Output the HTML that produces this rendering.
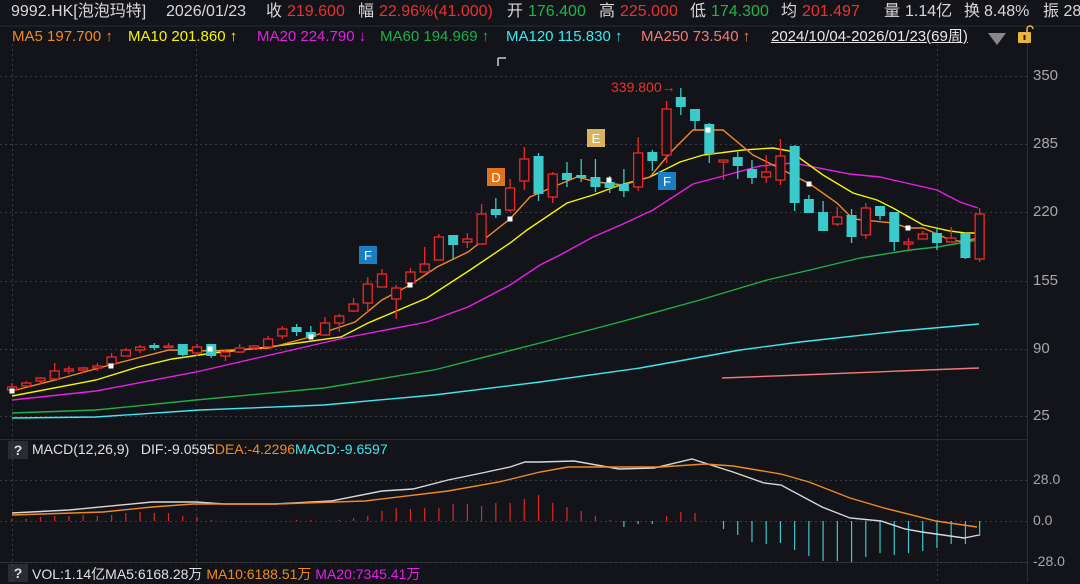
<!DOCTYPE html>
<html><head><meta charset="utf-8">
<style>
html,body{margin:0;padding:0;background:#131419;}
body{width:1080px;height:582px;overflow:hidden;position:relative;font-family:"Liberation Sans","Noto Sans CJK SC",sans-serif;}
.t{position:absolute;white-space:nowrap;}
.a{position:absolute;top:2px;font-size:16px;line-height:20px;color:#d8d8d8;white-space:nowrap;}
.b{position:absolute;top:28px;font-size:15px;line-height:18px;white-space:nowrap;}
.R{color:#ec3030}.G{color:#1cb54c}
.ax{position:absolute;left:1033px;font-size:15px;color:#a8a8a8;}
.q{position:absolute;width:20px;height:18px;background:#2a2c31;color:#e0e0e0;font-size:14px;text-align:center;line-height:18px;font-weight:bold;}
</style></head><body>
<div class="a" style="left:11px">9992.HK[泡泡玛特]</div>
<div class="a" style="left:166px">2026/01/23</div>
<div class="a" style="left:266px">收</div><div class="a R" style="left:287px">219.600</div>
<div class="a" style="left:358px">幅</div><div class="a R" style="left:379px">22.96%(41.000)</div>
<div class="a" style="left:507px">开</div><div class="a G" style="left:528px">176.400</div>
<div class="a" style="left:599px">高</div><div class="a R" style="left:620px">225.000</div>
<div class="a" style="left:690px">低</div><div class="a G" style="left:711px">174.300</div>
<div class="a" style="left:781px">均</div><div class="a R" style="left:802px">201.497</div>
<div class="a" style="left:884px">量</div><div class="a" style="left:905px">1.14亿</div>
<div class="a" style="left:964px">换</div><div class="a" style="left:984px">8.48%</div>
<div class="a" style="left:1043px">振 28</div>
<div class="b" style="left:12px;color:#f08a24">MA5 197.700 ↑</div>
<div class="b" style="left:128px;color:#f5f500">MA10 201.860 ↑</div>
<div class="b" style="left:257px;color:#e91ee9">MA20 224.790 ↓</div>
<div class="b" style="left:380px;color:#1fae4a">MA60 194.969 ↑</div>
<div class="b" style="left:506px;color:#3ee8f0">MA120 115.830 ↑</div>
<div class="b" style="left:641px;color:#f07a7a">MA250 73.540 ↑</div>
<div class="b" style="left:771px;color:#e8e8e8;text-decoration:underline">2024/10/04-2026/01/23(69周)</div>
<div class="ax" style="top:67px">350</div>
<div class="ax" style="top:135px">285</div>
<div class="ax" style="top:203px">220</div>
<div class="ax" style="top:272px">155</div>
<div class="ax" style="top:340px">90</div>
<div class="ax" style="top:407px">25</div>
<div class="ax" style="top:471px;font-size:14px">28.0</div>
<div class="ax" style="top:512px;font-size:14px">0.0</div>
<div class="ax" style="top:553px;font-size:14px">-28.0</div>
<div class="q" style="left:8px;top:441px">?</div>
<div class="t" style="left:32px;top:441px;font-size:14px;color:#e0e0e0">MACD(12,26,9)&nbsp;&nbsp; DIF:-9.0595<span style="color:#f08a24">DEA:-4.2296</span><span style="color:#3ee8f0">MACD:-9.6597</span></div>
<div class="q" style="left:8px;top:564px">?</div>
<div class="t" style="left:32px;top:564px;font-size:14px;color:#e0e0e0">VOL:1.14亿MA5:6168.28万 <span style="color:#f08a24">MA10:6188.51万</span> <span style="color:#e91ee9">MA20:7345.41万</span></div>
<div class="t" style="left:611px;top:79px;font-size:14px;color:#ec3030">339.800→</div>
<svg id="s" width="1080" height="582" style="position:absolute;left:0;top:0;pointer-events:none"></svg>
<script>
var s=document.getElementById('s'),h='';
function L(x1,y1,x2,y2,c,w,d){h+='<line x1="'+x1+'" y1="'+y1+'" x2="'+x2+'" y2="'+y2+'" stroke="'+c+'" stroke-width="'+(w||1)+'"'+(d?' stroke-dasharray="'+d+'"':'')+'/>';}
function P(pts,c,w){h+='<polyline fill="none" stroke="'+c+'" stroke-width="'+(w||1.4)+'" points="'+pts+'"/>';}
L(0,26,1080,26,'#2a2c31',1);L(1027.5,26,1027.5,582,'#2a2c31',1.2);L(0,439.5,1028,439.5,'#2a2c31',1);L(0,562.5,1028,562.5,'#2a2c31',1);
[76,144,212,281,349,416,480,521,562].forEach(function(y){L(0,y+.5,1027,y+.5,'#3a3c42',1,'2,3');});
[12,196,937].forEach(function(x){L(x+.5,44,x+.5,582,'#3a3c42',1,'2,3');});
h+='<path d="M498 58 h8 M498 58 v8" stroke="#ccc" stroke-width="1.5" fill="none"/>';
h+='<polygon points="988,33 1006,33 997,45" fill="#888"/>';
h+='<rect x="1018" y="32" width="13" height="11" rx="1" fill="#e6b73c"/><path d="M1027 32 v-3 a3 3 0 0 1 6 0" stroke="#e6b73c" stroke-width="1.5" fill="none"/><rect x="1023.5" y="35" width="2" height="5" fill="#222"/>';
P('12,418 96,417 200,410 324,405 434,395 540,382 640,368 740,350 800,342 900,331 979,324','#3ee8f0');
P('722,378 800,375 900,371 979,368','#f07a7a');
P('12,413 96,410 196,400 324,388 434,370 540,343 620,322 700,300 767,280 810,270 860,258 910,250 937,247 978,240','#1fae4a');
P('12,400 96,391 196,372 344,338 427,322 468,307 510,285 540,265 560,255 593,237 623,224 653,210 693,184 727,175 760,166 793,163 850,174 880,177 937,190 960,202 978,208','#e91ee9');
P('12,396 96,380 138,367 172,359 213,353 269,347 341,337 368,323 427,298 470,270 510,243 527,230 567,203 593,195 620,185 650,177 680,162 703,155 743,150 773,148 790,151 823,175 853,193 877,200 893,208 923,225 950,231 965,233 979,233','#f5f500');
P('12,391 55,380 110,365 169,350 213,351 269,348 310,337 355,322 382,300 410,285 437,267 468,252 510,219 530,197 553,187 577,177 597,182 623,185 650,177 670,153 693,130 723,130 753,155 777,167 810,184 837,203 853,219 893,223 908,228 923,228 937,234 950,240 965,242 979,237','#f08a24');
var C=[['r',387,390,383,392],['r',383,386,381,387],['r',378,381,377,384],['r',371,379,363,380],['r',369,371,366,374],['r',368,370,367,373],['r',366,368,363,371],['r',357,364,353,367],['r',350,356,348,356],['r',347,350,345,353],['c',345,348,343,350],['r',346,347.5,343,348],['c',344,355,344,356],['r',347,353,344,356],['c',344,356,344,358],['r',352,356,350,361],['r',348,352,344,353],['r',346,348,345,349],['r',339,347,336,347],['r',329,336,326,339],['c',327,332,324,336],['c',332,337,326,339],['r',323,335,317,336],['r',316,323,314,332],['r',304,311,298,312],['r',284,303,277,312],['r',274,287,269,287],['r',288,299,285,319],['r',272,283,268,284],['r',264,272,247,272],['r',237,260,234,260],['c',235,245,235,259],['r',239,242,233,248],['r',214,244,204,245],['c',209,215,198,218],['r',188,210,179,212],['r',159,181,147,190],['c',156,194,153,201],['r',174,197,172,203],['c',173,180,162,187],['c',175,178,159,182],['c',177,187,159,192],['c',182,188,176,193],['c',184,191,169,197],['r',153,187,137,191],['c',152,161,150,171],['r',109,155,101,163],['c',97,107,88,115],['c',109,121,109,130],['c',124,154,123,163],['r',160,162,160,180],['c',157,166,152,179],['c',169,178,160,184],['r',172,177,155,183],['r',156,180,139,185],['c',146,203,145,211],['c',199,213,195,213],['c',212,231,201,231],['r',217,224,207,226],['c',215,237,209,243],['r',208,235,203,239],['c',206,216,206,220],['c',212,242,212,251],['r',242,244,238,250],['r',234,239,231,239],['c',233,243,227,250],['r',238,242,227,242],['c',233,258,232,259],['r',214,259,208,262]];
function X(i){return 12+i*14.23;}
C.forEach(function(d,i){var x=X(i),red=d[0]=='r',col=red?'#f02828':'#3cc9c9';
L(x,d[3],x,d[4],col,1.3);
if(red){h+='<rect x="'+(x-4.5)+'" y="'+d[1]+'" width="9" height="'+Math.max(d[2]-d[1],1.5)+'" fill="#131419" stroke="'+col+'" stroke-width="1.3"/>';}
else{h+='<rect x="'+(x-5)+'" y="'+d[1]+'" width="10" height="'+Math.max(d[2]-d[1],2)+'" fill="'+col+'"/>';}
});
[[12,391],[111,366],[210,349],[311,337],[410,285],[510,219],[609,180],[708,130],[809,184],[908,228]].forEach(function(p){h+='<rect x="'+(p[0]-2.5)+'" y="'+(p[1]-2.5)+'" width="5" height="5" fill="#fff"/>';});
function M(x,y,c,t){h+='<rect x="'+x+'" y="'+y+'" width="18" height="18" fill="'+c+'"/><text x="'+(x+9)+'" y="'+(y+14)+'" text-anchor="middle" font-family="Liberation Sans" font-size="13" fill="#fff">'+t+'</text>';}
M(359,246,'#1a7fc0','F');M(487,168,'#e0731a','D');M(587,129,'#d8b55a','E');M(658,172,'#1a7fc0','F');
var B={0:519,1:519,2:517,3:516,4:516,5:515,6:516,7:515,8:513,9:512,10:513,11:513,12:516,13:517,14:520,20:520,21:520,23:520,24:518,25:516,26:511,27:508,28:509,29:508,30:508,31:504,32:504,33:506,34:503,35:503,36:499,37:495,38:503,39:507,40:511,41:516,42:520,43:527,44:524,45:524,46:516,47:512,48:513,50:529,51:535,52:542,53:544,54:543,55:550,56:556,57:561,58:561,59:562,60:557,61:553,62:555,63:553,64:551,65:548,66:544,67:544,68:536};
for(var k in B){var x=X(+k),y=B[k];L(x,521,x,y,y<521?'#e02828':'#3cc9c9',1.2);}
P('12,513 69,510 152,502 196,502 224,504 275,504 331,501 382,491 413,489 448,480 482,473 510,467 525,462 540,462 574,461 619,469 654,468 692,459 733,472 764,483 781,485 822,507 850,518 881,521 905,529 922,532 936,534 964,538 979,535','#d8d8d8');
P('12,515 103,512 152,507 193,504 275,504 365,501 448,491 499,482 540,472 568,467 609,467 660,467 705,464 733,466 781,474 809,482 850,498 884,508 936,521 977,527','#f08a24');
s.innerHTML=h;
</script>
</body></html>
